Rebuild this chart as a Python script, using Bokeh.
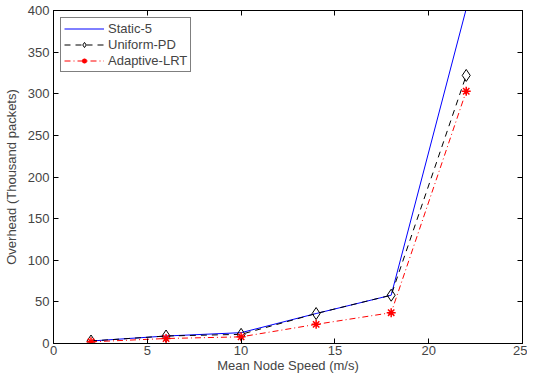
from bokeh.plotting import figure
from bokeh.models import LinearAxis, Range1d, Legend, LegendItem, FixedTicker, CustomLabelingPolicy
from bokeh.embed import file_html
from bokeh.resources import INLINE

speed = [2, 6, 10, 14, 18, 22]
static5 = [3, 9, 13, 36, 58, 402]
uniform_pd = [3, 9, 11, 36, 58, 322]
adaptive_lrt = [2, 6, 8, 23, 37, 303]
x_ticks = [0, 5, 10, 15, 20, 25]
y_ticks = [0, 50, 100, 150, 200, 250, 300, 350, 400]

FONT = "Liberation Sans"
FS = "13px"

p = figure(width=527, height=375, output_backend="svg", toolbar_location=None,
           x_range=Range1d(0, 25), y_range=Range1d(0, 400),
           min_border_left=38, min_border_right=5, min_border_top=10, min_border_bottom=20)
p.background_fill_color = "white"
p.border_fill_color = "white"
p.outline_line_color = "black"
p.outline_line_width = 1
p.xgrid.visible = False
p.ygrid.visible = False

for ax, ticks in ((p.xaxis[0], x_ticks), (p.yaxis[0], y_ticks)):
    ax.ticker = FixedTicker(ticks=ticks)
    ax.major_tick_in = 5
    ax.major_tick_out = 0
    ax.minor_tick_line_color = None
    ax.major_label_text_font = FONT
    ax.major_label_text_font_size = FS
    ax.axis_label_text_font = FONT
    ax.axis_label_text_font_size = FS
    ax.axis_label_text_font_style = "normal"
    ax.axis_line_color = "black"

p.xaxis.axis_label = "Mean Node Speed (m/s)"
p.yaxis.axis_label = "Overhead (Thousand packets)"
p.xaxis.major_label_standoff = 2
p.xaxis.axis_label_standoff = 0
p.yaxis.major_label_standoff = 4
p.yaxis.axis_label_standoff = 6

hide = CustomLabelingPolicy(code="const a = [...indices]; for (const i of a) indices.unset(i); return indices")
for loc, ticks in (("right", y_ticks), ("above", x_ticks)):
    a = LinearAxis(ticker=FixedTicker(ticks=ticks), major_tick_in=5, major_tick_out=0,
                   minor_tick_line_color=None, major_label_policy=hide,
                   major_label_text_font_size="1px",
                   major_label_standoff=0, axis_line_color="black")
    p.add_layout(a, loc)

r1 = p.line(speed, static5, line_color="blue", line_width=1)
r2 = p.line(speed, uniform_pd, line_color="black", line_width=1, line_dash="6 5")
m2 = p.scatter(speed, uniform_pd, marker="diamond", size=12, fill_color=None,
               line_color="black", line_width=1)
r3 = p.line(speed, adaptive_lrt, line_color="red", line_width=1, line_dash="6 3 1 3")
m3 = p.scatter(speed, adaptive_lrt, marker="asterisk", size=9, line_color="red", line_width=1.5)

legend = Legend(items=[LegendItem(label="Static-5", renderers=[r1]),
                       LegendItem(label="Uniform-PD", renderers=[r2, m2]),
                       LegendItem(label="Adaptive-LRT", renderers=[r3, m3])],
                location="top_left")
legend.border_line_color = "black"
legend.border_line_width = 1.5
legend.label_text_font = FONT
legend.label_text_font_size = FS
legend.glyph_width = 40
legend.glyph_height = 13
legend.label_height = 13
legend.spacing = 1
legend.padding = 3
legend.margin = 7
legend.label_standoff = 4
p.add_layout(legend)

open("out.html", "w").write(file_html(p, INLINE))
